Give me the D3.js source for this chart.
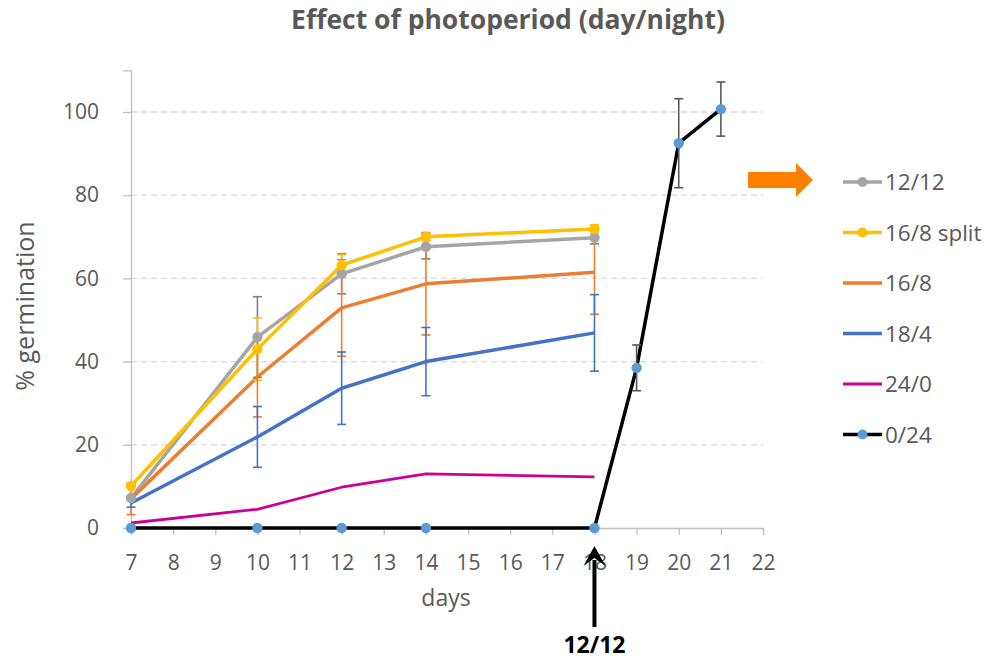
<!DOCTYPE html>
<html>
<head>
<meta charset="utf-8">
<script src="https://cdn.jsdelivr.net/npm/d3@7"></script>
<style>
  body { margin: 0; background: #fff; }
  text { font-family: "Open Sans", "Noto Sans", sans-serif; }
</style>
</head>
<body>
<div id="chart"></div>
<script>
// data
var days = [7, 10, 12, 14, 18]
var days024 = [7, 10, 12, 14, 18, 19, 20, 21]
var yTicks = [0, 20, 40, 60, 80, 100]

var s1212 = [7.2, 45.9, 61.1, 67.6, 69.8]
var e1212 = [0, 9.7, 4.8, 2.9, 1.5]
var s168split = [10.1, 43.0, 63.2, 70.0, 71.9]
var e168split = [0, 7.5, 2.5, 1.0, 1.0]
var s168 = [7.0, 36.3, 52.9, 58.7, 61.5]
var e168 = [3.8, 9.6, 11.6, 12.3, 10.1]
var s184 = [6.0, 21.9, 33.6, 40.0, 46.9]
var e184 = [1.0, 7.3, 8.7, 8.2, 9.2]
var s240 = [1.2, 4.5, 9.8, 13.0, 12.3]
var s024 = [0, 0, 0, 0, 0, 38.5, 92.5, 100.7]
var e024 = [0, 0, 0, 0, 0, 5.5, 10.7, 6.5]

var series = [
  { name: "12/12", x: days, y: s1212, err: e1212, color: "#A5A5A5", errColor: "#7F7F7F", width: 3.5, marker: "#A5A5A5" },
  { name: "16/8 split", x: days, y: s168split, err: e168split, color: "#FFC000", errColor: "#FFC000", width: 3.5, marker: "#FFC000" },
  { name: "16/8", x: days, y: s168, err: e168, color: "#ED7D31", errColor: "#ED7D31", width: 3.5, marker: null },
  { name: "18/4", x: days, y: s184, err: e184, color: "#4472C4", errColor: "#4472C4", width: 3.5, marker: null },
  { name: "24/0", x: days, y: s240, err: null, color: "#CC0099", errColor: "#CC0099", width: 2.8, marker: null },
  { name: "0/24", x: days024, y: s024, err: e024, color: "#000000", errColor: "#595959", width: 3.5, marker: "#5B9BD5" }
]

var W = 997, H = 659
var svg = d3.select("#chart").append("svg").attr("width", W).attr("height", H)

var x = d3.scaleLinear().domain([7, 22]).range([131, 763])
var y = d3.scaleLinear().domain([0, 110]).range([528, 70.4])

// title
svg.append("text").attr("x", 508).attr("y", 29).attr("text-anchor", "middle")
  .style("font-size", "26.5px").style("font-weight", "bold").style("fill", "#595959")
  .text("Effect of photoperiod (day/night)")

// grid
svg.append("g").selectAll("line").data(yTicks.filter(d => d > 0)).enter().append("line")
  .attr("x1", x(7)).attr("x2", x(22))
  .attr("y1", d => y(d)).attr("y2", d => y(d))
  .attr("stroke", "#D9D9D9").attr("stroke-width", 1.3).attr("stroke-dasharray", "6,4")

// y axis
var yAxis = svg.append("g").attr("transform", `translate(${x(7)},0)`)
  .call(d3.axisLeft(y).tickValues(yTicks).tickSize(8).tickPadding(24))
yAxis.select(".domain").attr("stroke", "#BFBFBF").attr("stroke-width", 1.3)
yAxis.selectAll(".tick line").attr("stroke", "#BFBFBF").attr("stroke-width", 1.3)
yAxis.selectAll("text").style("font-size", "21px").style("fill", "#595959")
  .style("font-family", "'Open Sans', sans-serif")

// x axis
var xAxis = svg.append("g").attr("transform", `translate(0,${y(0)})`)
  .call(d3.axisBottom(x).tickValues(d3.range(7, 23)).tickSize(7).tickPadding(8))
xAxis.select(".domain").attr("stroke", "#BFBFBF").attr("stroke-width", 1.3)
xAxis.selectAll(".tick line").attr("stroke", "#BFBFBF").attr("stroke-width", 1.3)
xAxis.selectAll("text").attr("y", 42).attr("dy", null).style("font-size", "21px").style("fill", "#595959")
  .style("font-family", "'Open Sans', sans-serif")

// axis titles
svg.append("text").attr("x", 446).attr("y", 606).attr("text-anchor", "middle")
  .style("font-size", "23px").style("fill", "#595959").text("days")
svg.append("text").attr("transform", "translate(34,306) rotate(-90)").attr("text-anchor", "middle")
  .style("font-size", "25px").style("fill", "#595959").text("% germination")

var line = d3.line().x(d => x(d[0])).y(d => y(d[1]))

// lines
series.forEach(function (s) {
  var pts = s.x.map((d, i) => [d, s.y[i]])
  svg.append("path").datum(pts).attr("d", line)
    .attr("fill", "none").attr("stroke", s.color).attr("stroke-width", s.width)
    .attr("stroke-linejoin", "round")
})

// error bars
series.forEach(function (s) {
  if (!s.err) return
  var g = svg.append("g").attr("stroke", s.errColor).attr("stroke-width", 1.6)
  s.x.forEach(function (d, i) {
    var e = s.err[i]
    if (!e) return
    var top = y(s.y[i] + e), bot = y(s.y[i] - e)
    g.append("line").attr("x1", x(d)).attr("x2", x(d)).attr("y1", top).attr("y2", bot)
    g.append("line").attr("x1", x(d) - 4.5).attr("x2", x(d) + 4.5).attr("y1", top).attr("y2", top)
    g.append("line").attr("x1", x(d) - 4.5).attr("x2", x(d) + 4.5).attr("y1", bot).attr("y2", bot)
  })
})

// markers
series.forEach(function (s) {
  if (!s.marker) return
  svg.append("g").selectAll("circle").data(s.x.map((d, i) => [d, s.y[i]])).enter().append("circle")
    .attr("cx", d => x(d[0])).attr("cy", d => y(d[1])).attr("r", 5.2)
    .attr("fill", s.marker)
})

// legend
var leg = svg.append("g")
series.forEach(function (s, i) {
  var ly = 182 + i * 50.5
  leg.append("line").attr("x1", 843).attr("x2", 882).attr("y1", ly).attr("y2", ly)
    .attr("stroke", s.color).attr("stroke-width", s.width)
  if (s.marker) leg.append("circle").attr("cx", 862.5).attr("cy", ly).attr("r", 5).attr("fill", s.marker)
  leg.append("text").attr("x", 885).attr("y", ly + 8).style("font-size", "22.5px").style("fill", "#595959").text(s.name)
})

// orange arrow next to legend
svg.append("path")
  .attr("d", "M748,172 L796,172 L796,163 L813,180 L796,197 L796,188 L748,188 Z")
  .attr("fill", "#FF8000")

// black arrow marking switch to 12/12
var ax = x(18)
svg.append("line").attr("x1", ax).attr("x2", ax).attr("y1", 560).attr("y2", 627)
  .attr("stroke", "#000").attr("stroke-width", 4)
svg.append("path").attr("d", `M${ax},546 L${ax + 11},566 L${ax},558 L${ax - 11},566 Z`).attr("fill", "#000")
svg.append("text").attr("x", ax).attr("y", 653).attr("text-anchor", "middle")
  .style("font-size", "23px").style("font-weight", "bold").style("fill", "#000").text("12/12")
</script>
</body>
</html>
